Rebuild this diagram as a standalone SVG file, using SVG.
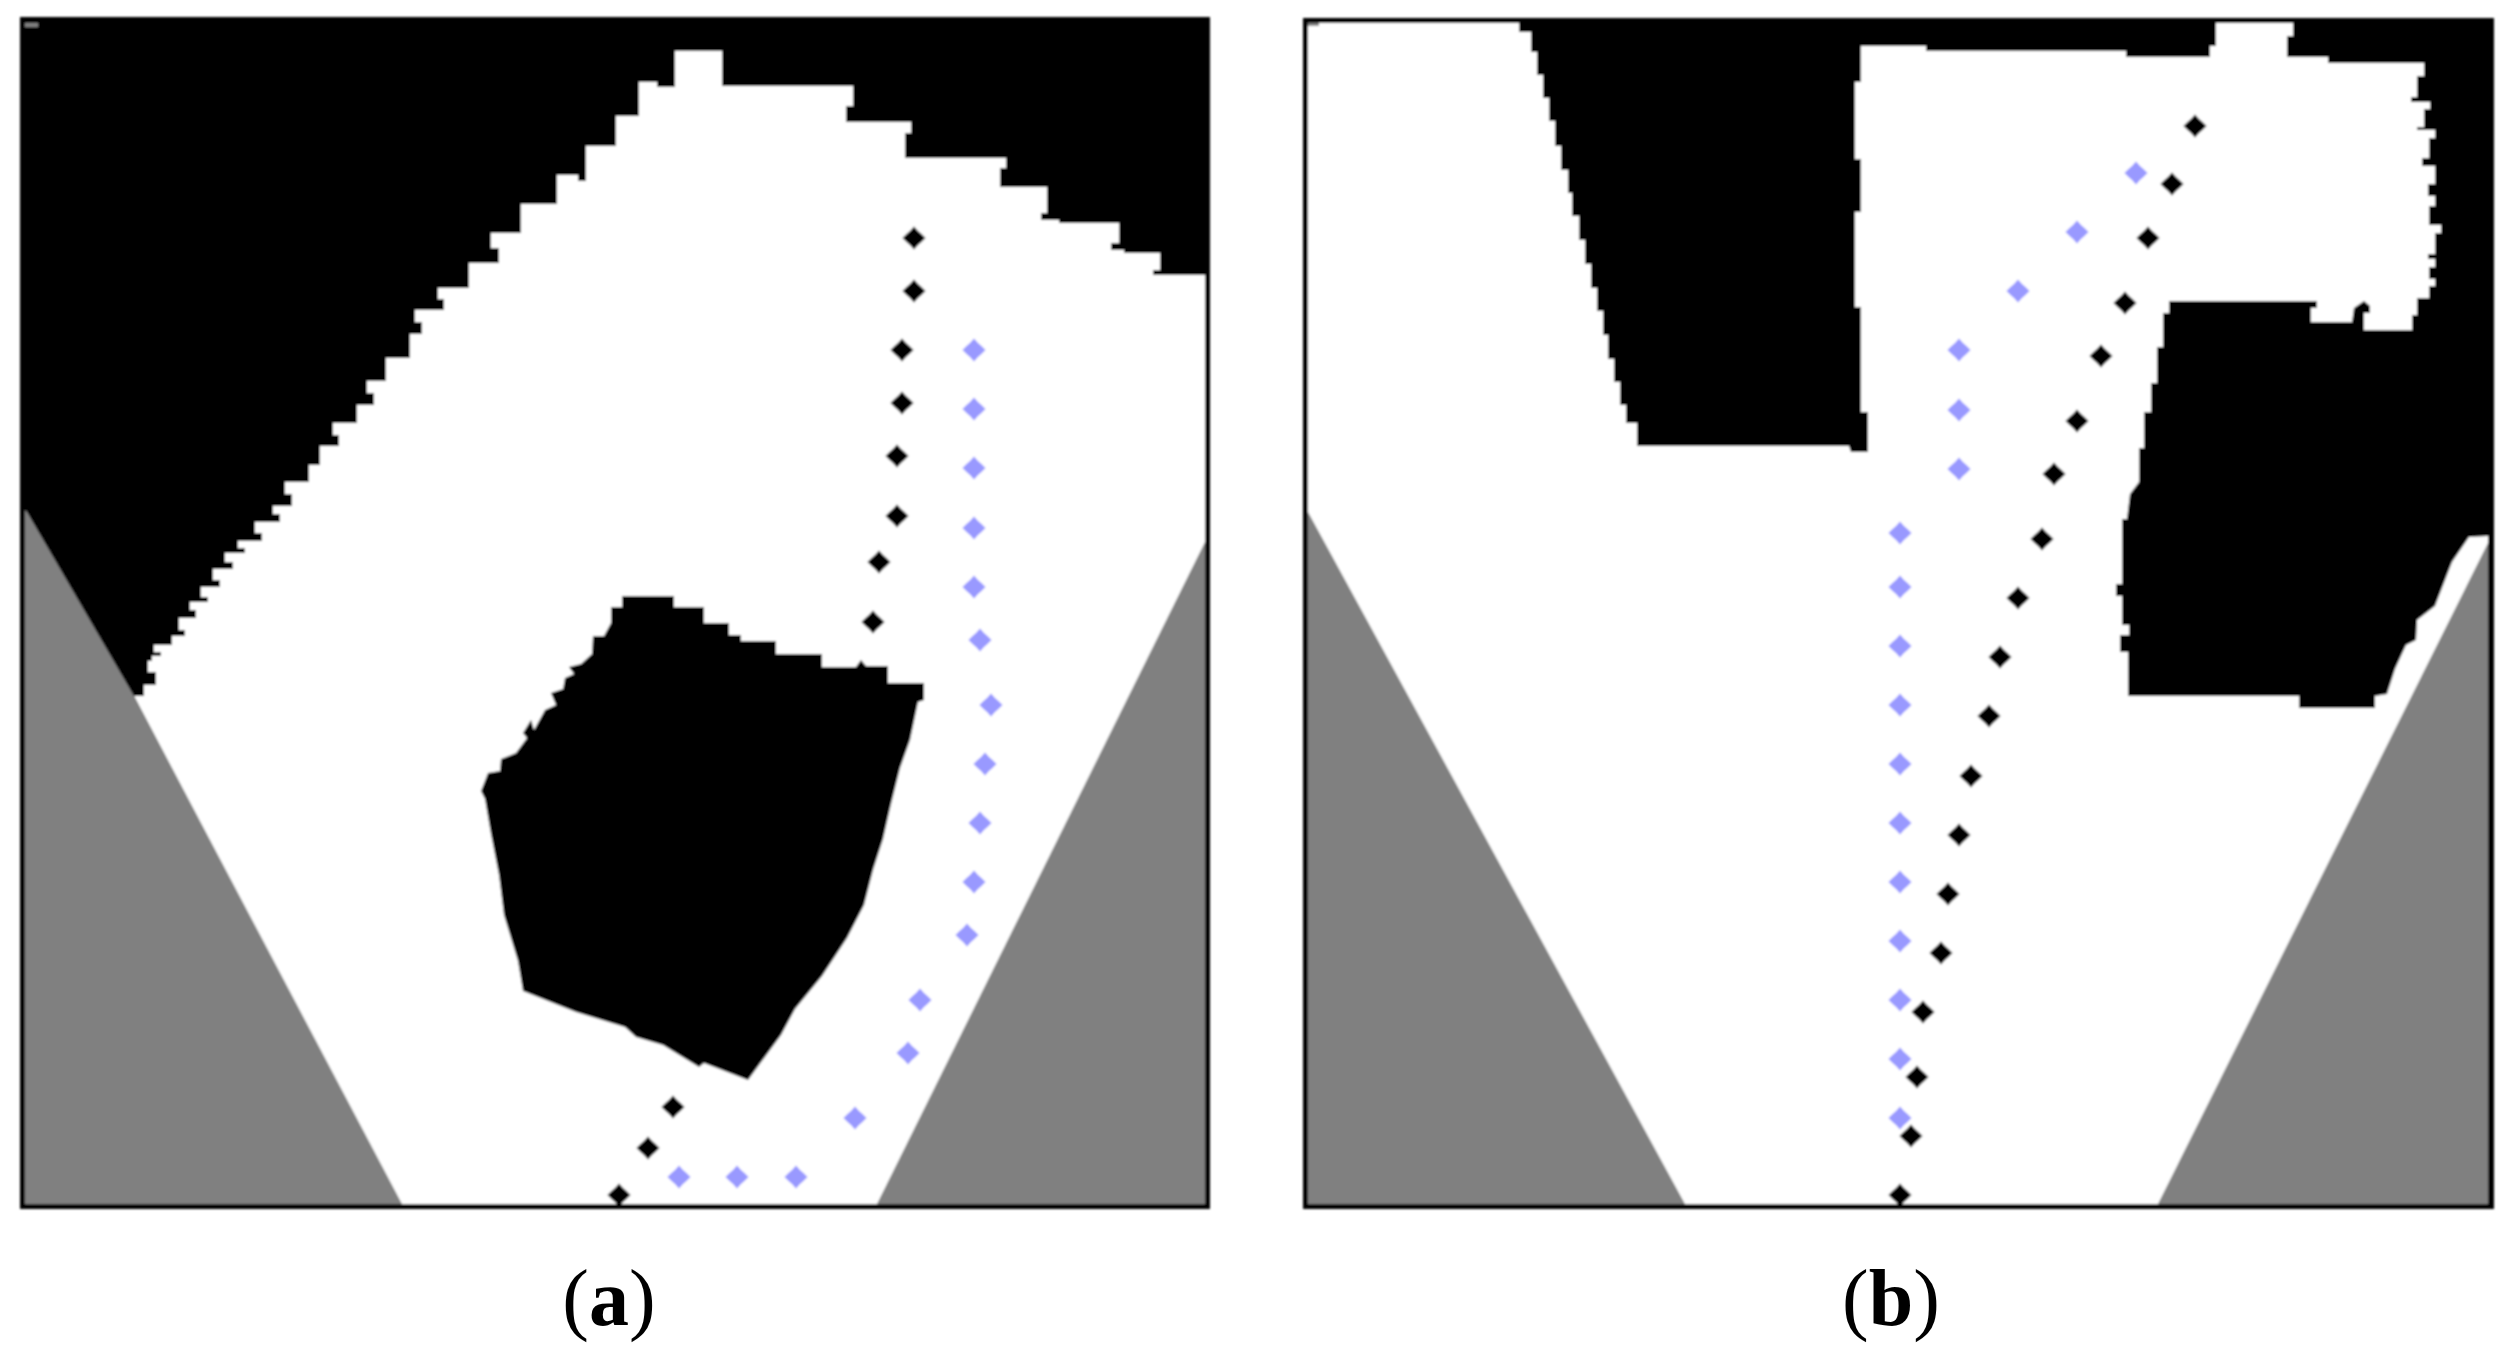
<svg xmlns="http://www.w3.org/2000/svg" xmlns:xlink="http://www.w3.org/1999/xlink" width="2512" height="1356" viewBox="0 0 2512 1356">
<style>
.bg{fill:#000}.free{fill:#fff}.blind{fill:#808080}
.frame{fill:none;stroke:#000;stroke-width:5}
.bk{fill:#000}.bl{fill:#9999ff}
.cap{font-family:"Liberation Serif","Times New Roman",serif;font-size:80px;fill:#000;text-anchor:middle}
.cap tspan{font-weight:bold}
.soft{filter:url(#soft)}
</style>
<defs>
<filter id="soft" x="-0.02" y="-0.02" width="1.04" height="1.04"><feGaussianBlur stdDeviation="1"/></filter>
<polygon id="d" points="0,-11.5 4,-7 7.5,-4 11.5,0 7.5,4 4,7 0,11.5 -4,7 -7.5,4 -11.5,0 -7.5,-4 -4,-7"/>
</defs>
<rect width="2512" height="1356" fill="#fff"/>
<g id="panel-a">
<g class="soft">
<rect class="bg" x="20" y="17" width="1190" height="1192"/>
<polygon class="free" points="134,696 144,696 144,685 156,685 156,672 148,672 148,661 152,661 152,656 161,656 161,652 154,652 154,645 172,645 172,636 185,636 185,630 179,630 179,618 196,618 196,610 190,610 190,602 208,602 208,597 201,597 201,587 220,587 220,580 213,580 213,569 233,569 233,562 225,562 225,553 245,553 245,548 238,548 238,541 262,541 262,533 255,533 255,522 280,522 280,514 273,514 273,506 292,506 292,494 285,494 285,482 309,482 309,465 320,465 320,446 339,446 339,435 333,435 333,423 357,423 357,405 374,405 374,393 367,393 367,381 386,381 386,358 410,358 410,334 422,334 422,322 415,322 415,310 444,310 444,299 438,299 438,288 469,288 469,263 499,263 499,248 491,248 491,233 521,233 521,204 557,204 557,175 578,175 578,181 586,181 586,146 616,146 616,116 639,116 639,82 657,82 657,87 675,87 675,51 722,51 722,86 853,86 853,106 846,106 846,122 911,122 911,133 905,133 905,158 1006,158 1006,168 1000,168 1000,187 1047,187 1047,213 1041,213 1041,220 1059,220 1059,223 1119,223 1119,243 1111,243 1111,250 1124,250 1124,253 1160,253 1160,270 1153,270 1153,275 1205,275 1205,1204 400,1204"/>
<polygon class="blind" points="25,510 27,512 134,696 402,1204 25,1204"/>
<polygon class="blind" points="877,1204 1205,542 1205,1204"/>
<rect class="blind" x="25" y="23" width="13" height="4"/>
<polygon class="bg" points="622,596 674,596 674,607 704,607 704,623 729,623 729,635 741,635 741,641 776,641 776,654 822,654 822,667 856,667 861,660 866,666 888,666 888,683 924,683 924,700 918,702 910,740 900,768 891,804 883,839 873,870 864,905 847,938 822,976 795,1009 781,1035 748,1080 704,1063 699,1067 663,1045 636,1037 625,1027 576,1012 523,991 518,961 504,915 499,875 491,834 485,799 481,791 488,773 500,771 501,759 516,753 527,738 523,733 531,720 534,730 545,710 556,705 551,693 563,689 565,678 574,674 569,667 581,664 592,654 593,636 604,636 611,623 611,607 622,607"/>
<rect class="frame" x="22.5" y="19.5" width="1185" height="1187"/>
<g id="path-a-blue" class="bl">
<use xlink:href="#d" href="#d" x="974" y="350"/><use xlink:href="#d" href="#d" x="974" y="409"/><use xlink:href="#d" href="#d" x="974" y="468"/><use xlink:href="#d" href="#d" x="974" y="528"/><use xlink:href="#d" href="#d" x="974" y="587"/><use xlink:href="#d" href="#d" x="980" y="640"/><use xlink:href="#d" href="#d" x="991" y="705"/><use xlink:href="#d" href="#d" x="985" y="764"/><use xlink:href="#d" href="#d" x="980" y="823"/><use xlink:href="#d" href="#d" x="974" y="882"/><use xlink:href="#d" href="#d" x="967" y="935"/><use xlink:href="#d" href="#d" x="920" y="1000"/><use xlink:href="#d" href="#d" x="908" y="1053"/><use xlink:href="#d" href="#d" x="855" y="1118"/><use xlink:href="#d" href="#d" x="796" y="1177"/><use xlink:href="#d" href="#d" x="737" y="1177"/><use xlink:href="#d" href="#d" x="679" y="1177"/>
</g>
<g id="path-a-black" class="bk">
<use xlink:href="#d" href="#d" x="914" y="238"/><use xlink:href="#d" href="#d" x="914" y="291"/><use xlink:href="#d" href="#d" x="902" y="350"/><use xlink:href="#d" href="#d" x="902" y="403"/><use xlink:href="#d" href="#d" x="897" y="456"/><use xlink:href="#d" href="#d" x="897" y="516"/><use xlink:href="#d" href="#d" x="879" y="562"/><use xlink:href="#d" href="#d" x="873" y="622"/><use xlink:href="#d" href="#d" x="673" y="1107"/><use xlink:href="#d" href="#d" x="648" y="1148"/><use xlink:href="#d" href="#d" x="619" y="1195"/>
</g>
</g>
<text class="cap" x="609" y="1325">(<tspan>a</tspan>)</text>
</g>
<g id="panel-b">
<g class="soft">
<rect class="bg" x="1303" y="18" width="1191" height="1191"/>
<polygon class="free" points="1308,23 1519,23 1519,32 1531,32 1531,52 1537,52 1537,75 1543,75 1543,98 1549,98 1549,121 1555,121 1555,146 1561,146 1561,170 1568,170 1568,193 1572,193 1572,216 1579,216 1579,240 1585,240 1585,264 1591,264 1591,288 1597,288 1597,311 1603,311 1603,335 1608,335 1608,359 1614,359 1614,382 1620,382 1620,405 1626,405 1626,423 1637,423 1637,446 1849,446 1851,452 1868,452 1868,412 1861,412 1861,307 1855,307 1855,212 1861,212 1861,159 1855,159 1855,82 1861,82 1861,46 1926,46 1926,51 2126,51 2126,57 2210,57 2210,46 2216,46 2216,23 2293,23 2293,36 2287,36 2287,57 2328,57 2328,63 2424,63 2424,76 2417,76 2417,97 2411,97 2411,102 2430,102 2430,109 2424,109 2424,127 2417,127 2417,130 2435,130 2435,138 2429,138 2429,158 2422,158 2422,166 2435,166 2435,184 2428,184 2428,196 2435,196 2435,206 2429,206 2429,225 2441,225 2441,233 2435,233 2435,254 2428,254 2428,259 2435,259 2435,267 2429,267 2429,279 2435,279 2435,286 2429,286 2429,298 2417,298 2417,315 2412,315 2412,330 2364,330 2364,313 2370,313 2370,306 2364,301 2354,308 2352,322 2311,322 2311,308 2317,308 2317,301 2169,301 2169,313 2163,313 2163,347 2157,347 2157,383 2151,383 2151,412 2144,412 2144,448 2139,448 2139,482 2130,494 2127,519 2122,519 2122,584 2116,584 2116,596 2122,596 2122,625 2129,625 2129,635 2120,635 2120,652 2128,652 2128,696 2299,696 2299,708 2375,708 2375,696 2387,694 2395,669 2406,645 2416,640 2417,620 2435,606 2452,562 2469,537 2488,536 2488,1204 1308,1204"/>
<polygon class="blind" points="1308,512 1685,1204 1308,1204"/>
<polygon class="blind" points="2158,1204 2488,543 2488,1204"/>
<rect class="blind" x="1308" y="23" width="11" height="3"/>
<rect class="frame" x="1305.5" y="20.5" width="1186" height="1186"/>
<g id="path-b-blue" class="bl">
<use xlink:href="#d" href="#d" x="2136" y="173"/><use xlink:href="#d" href="#d" x="2077" y="232"/><use xlink:href="#d" href="#d" x="2018" y="291"/><use xlink:href="#d" href="#d" x="1959" y="350"/><use xlink:href="#d" href="#d" x="1959" y="410"/><use xlink:href="#d" href="#d" x="1959" y="469"/><use xlink:href="#d" href="#d" x="1900" y="533"/><use xlink:href="#d" href="#d" x="1900" y="587"/><use xlink:href="#d" href="#d" x="1900" y="646"/><use xlink:href="#d" href="#d" x="1900" y="705"/><use xlink:href="#d" href="#d" x="1900" y="764"/><use xlink:href="#d" href="#d" x="1900" y="823"/><use xlink:href="#d" href="#d" x="1900" y="882"/><use xlink:href="#d" href="#d" x="1900" y="941"/><use xlink:href="#d" href="#d" x="1900" y="1000"/><use xlink:href="#d" href="#d" x="1900" y="1059"/><use xlink:href="#d" href="#d" x="1900" y="1118"/>
</g>
<g id="path-b-black" class="bk">
<use xlink:href="#d" href="#d" x="2195" y="126"/><use xlink:href="#d" href="#d" x="2172" y="184"/><use xlink:href="#d" href="#d" x="2148" y="238"/><use xlink:href="#d" href="#d" x="2125" y="303"/><use xlink:href="#d" href="#d" x="2101" y="356"/><use xlink:href="#d" href="#d" x="2077" y="421"/><use xlink:href="#d" href="#d" x="2054" y="474"/><use xlink:href="#d" href="#d" x="2042" y="539"/><use xlink:href="#d" href="#d" x="2018" y="598"/><use xlink:href="#d" href="#d" x="2000" y="657"/><use xlink:href="#d" href="#d" x="1989" y="716"/><use xlink:href="#d" href="#d" x="1971" y="776"/><use xlink:href="#d" href="#d" x="1959" y="835"/><use xlink:href="#d" href="#d" x="1948" y="894"/><use xlink:href="#d" href="#d" x="1941" y="953"/><use xlink:href="#d" href="#d" x="1923" y="1012"/><use xlink:href="#d" href="#d" x="1917" y="1077"/><use xlink:href="#d" href="#d" x="1911" y="1136"/><use xlink:href="#d" href="#d" x="1900" y="1195"/>
</g>
</g>
<text class="cap" x="1891" y="1325">(<tspan>b</tspan>)</text>
</g>
</svg>
